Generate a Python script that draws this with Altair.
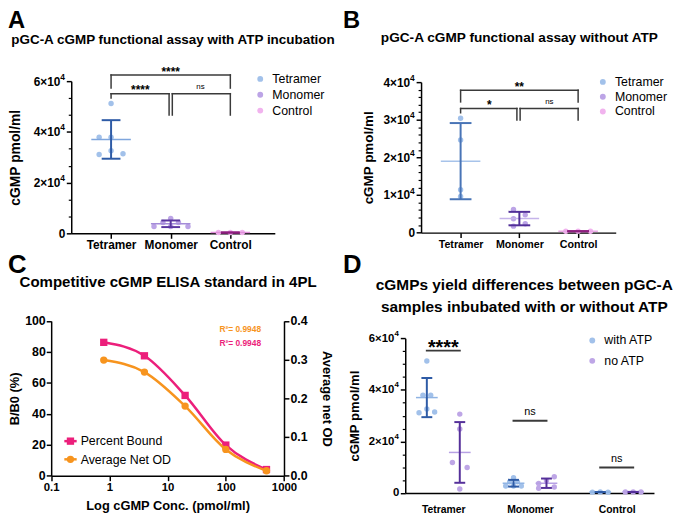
import json
import pandas as pd
import altair as alt

FONT = "Liberation Sans"
W, H = 677, 506

# ---------------- data ----------------
groups = ["Tetramer", "Monomer", "Control"]

# Panel A : with ATP
a_tetramer = [51200, 37900, 37900, 32600, 31100, 31400]
a_monomer = [5900, 4300, 4300, 2700, 2700, 2700]
a_control = [300, 350, 300]
a_tetramer_spread = [0, -0.2, 0, 0, -0.2, 0.2]
a_monomer_spread = [0, -0.13, 0.13, -0.28, 0, 0.29]
a_control_spread = [-0.2, 0, 0.2]

# Panel B : without ATP
b_tetramer = [30400, 24600, 11400, 9600]
b_monomer = [6160, 3700, 4730, 1730, 2360]
b_control = [350, 400, 350]
b_tetramer_spread = [0, 0, 0, 0]
b_monomer_spread = [-0.1, -0.1, 0.1, -0.1, 0.1]
b_control_spread = [-0.21, 0, 0.21]

# Panel C : ELISA standard
c_conc = [0.8, 4, 20, 100, 500]
c_percent_bound = [86.2, 77.5, 51.9, 19.8, 4.0]
c_avg_net_od = [0.299, 0.268, 0.180, 0.068, 0.0128]
c_series = ["Percent Bound", "Average Net OD"]
c_r2 = ["R²= 0.9948", "R²= 0.9948"]

# Panel D : with vs without ATP
d_series = ["with ATP", "no ATP"]
d_noatp_tetramer = [30600, 24800, 11800, 9900, 1500]
d_noatp_monomer = [6300, 3700, 4700, 1800, 2300]
d_noatp_control = [350, 400, 350]
d_with_tetramer_spread = [0, -0.045, 0.045, 0, -0.09, 0.09]
d_with_monomer_spread = [0, -0.045, 0.045, -0.09, 0, 0.09]
d_with_control_spread = [-0.09, 0, 0.09]
d_no_tetramer_spread = [0, 0, -0.085, 0.085, 0]
d_no_monomer_spread = [0.09, -0.09, 0, -0.09, 0.09]
d_no_control_spread = [-0.09, 0, 0.09]
d_series_shift = [-0.19, 0.19]

# significance annotations
a_br_x1 = [1, 1, 3, 1, 1, 1.973, 2.027, 2.027, 3]
a_br_x2 = [3, 1, 3, 1.973, 1, 1.973, 3, 2.027, 3]
a_br_y1 = [62450, 62450, 62450, 55050, 55050, 55050, 55050, 55050, 55050]
a_br_y2 = [62450, 57270, 57270, 55050, 53380, 46640, 55050, 46640, 46640]
a_star = ["****", "****"]
a_star_x = [2, 1.49]
a_star_y = [61950, 54930]
a_ns_x = [2.5]
a_ns_y = [56880]

b_br_x1 = [1, 1, 3, 1, 1, 1.958, 2.013, 2.013, 3]
b_br_x2 = [3, 1, 3, 1.958, 1, 1.958, 3, 2.013, 3]
b_br_y1 = [37820, 37820, 37820, 32990, 32990, 32990, 32990, 32990, 32990]
b_br_y2 = [37820, 34750, 34750, 32990, 31860, 29940, 32990, 29940, 29940]
b_star = ["**", "*"]
b_star_x = [2.0, 1.49]
b_star_y = [37715, 32900]
b_ns_x = [2.51]
b_ns_y = [34220]

d_br_x1 = [0.81, 1.81, 2.81]
d_br_x2 = [1.19, 2.19, 3.19]
d_br_y = [55240, 28000, 9860]
d_star_x = [1.0]
d_star_y = [53980]
d_ns_x = [2.0, 3.0]
d_ns_y = [30190, 12160]

titles = ["pGC-A cGMP functional assay with ATP incubation",
          "pGC-A cGMP functional assay without ATP",
          "Competitive cGMP ELISA standard in 4PL",
          "cGMPs yield differences between pGC-A",
          "samples inbubated with or without ATP"]
letters = ["A", "B", "C", "D"]
exponent = "4"

# ---------------- colours ----------------
PT = ["#a2c1ea", "#bca4e6", "#f1b3ee"]
A_ERR = ["#2e5ba6", "#5a36a0", "#8e1e7f"]
A_MEAN = ["#7fa6dd", "#a48cd8", "#e08fd9"]
B_ERR = ["#4874b6", "#512f98", "#8e1e7f"]
B_MEAN = ["#a7c3ea", "#c5b4ea", "#e9a8e5"]
D_PT = ["#a2c1ea", "#bea6e6"]
D_ERR = ["#2e5ba6", "#55309a"]
D_MEAN = ["#8fb3e3", "#b7a1e4"]
C_PINK = "#ec1f7b"
C_ORANGE = "#f7941e"
BRK = "#3a3a3a"

SUP_W = 5.0   # room left for the exponent


def long_df(value_lists, spread_lists, shift=0.0, series=None):
    rows = []
    for i, (g, vals, spr) in enumerate(zip(groups, value_lists, spread_lists)):
        for v, s in zip(vals, spr):
            rows.append({"group": g, "series": series if series else g,
                         "value": v, "center": i + 1 + shift,
                         "pos": i + 1 + shift + s})
    return pd.DataFrame(rows)


def lin(dom, rng):
    return alt.Scale(domain=dom, range=rng, nice=False, zero=False)


def cat_expr(names):
    return json.dumps(names, ensure_ascii=False) + "[round(datum.value) - 1]"


SCI = "datum.value == 0 ? '0' : format(datum.value / 10000, 'd') + '×10'"


def y_major(offset, values, title, title_x, lab_fs, title_fs):
    return alt.Axis(orient="left", offset=offset, values=values, labelExpr=SCI,
                    title=title, titleX=title_x, titleFontSize=title_fs,
                    labelFontSize=lab_fs, tickSize=5, tickWidth=1.5,
                    domainWidth=1.5,
                    labelPadding={"condition": {"test": "datum.value == 0", "value": 1.5},
                                  "value": 1.5 + SUP_W},
                    labelOverlap=False)


def y_minor(offset, values):
    return alt.Axis(orient="left", offset=offset, values=values, labels=False,
                    domain=False, tickSize=3, tickWidth=1.2, title=None)


def x_cat(offset, lab_fs, ticks=True, pad=1):
    return alt.Axis(orient="bottom", offset=offset, values=[1, 2, 3],
                    labelExpr=cat_expr(groups), title=None, labelFontSize=lab_fs,
                    ticks=ticks, tickSize=5 if ticks else 0, tickWidth=1.5,
                    domainWidth=1.5, labelPadding=pad, labelFlush=False,
                    labelOverlap=False)


def sup_layer(values, ys, axis_x, fs):
    df = pd.DataFrame({"v": values, "t": [exponent] * len(values)})
    return alt.Chart(df).mark_text(font=FONT, fontSize=fs, fontWeight="bold", align="right",
                                   baseline="middle", dy=-4.5, color="black").encode(
        x=alt.value(axis_x - 6.5), y=alt.Y("v:Q", scale=ys, axis=None), text="t:N")


def dot_panel(df, xs, ys, xaxis, ymaj, ymin, cfield, cdomain, pt_col, mean_col,
              err_col, mean_len, cap_len, legend):
    def col(rng, lg=None):
        if lg is None:
            return alt.Color(cfield + ":N", scale=alt.Scale(domain=cdomain, range=rng), legend=None)
        return alt.Color(cfield + ":N", scale=alt.Scale(domain=cdomain, range=rng), legend=lg)

    pts = alt.Chart(df).mark_circle(size=30, opacity=1).encode(
        x=alt.X("pos:Q", scale=xs, axis=xaxis),
        y=alt.Y("value:Q", scale=ys, axis=ymaj),
        color=col(pt_col, legend))
    gb = ["group", "center"] if cfield == "group" else [cfield, "group", "center"]
    agg = alt.Chart(df).transform_aggregate(
        m="mean(value)", sd="stdev(value)", groupby=gb
    ).transform_calculate(lo="datum.m - datum.sd", hi="datum.m + datum.sd")
    mean = agg.mark_tick(orient="horizontal", size=mean_len, thickness=1.5, opacity=1).encode(
        x=alt.X("center:Q", scale=xs, axis=None),
        y=alt.Y("m:Q", scale=ys, axis=ymin), color=col(mean_col))
    err = agg.mark_rule(strokeWidth=2).encode(
        x=alt.X("center:Q", scale=xs, axis=None),
        y=alt.Y("lo:Q", scale=ys, axis=None), y2=alt.Y2("hi"), color=col(err_col))
    caps = [agg.mark_tick(orient="horizontal", size=cap_len, thickness=2, opacity=1).encode(
        x=alt.X("center:Q", scale=xs, axis=None),
        y=alt.Y(f + ":Q", scale=ys, axis=None), color=col(err_col)) for f in ("lo", "hi")]
    return [pts, mean, err] + caps


def bracket_layer(x1, x2, y1, y2, xs, ys, width=1.5):
    df = pd.DataFrame({"x1": x1, "x2": x2, "y1": y1, "y2": y2})
    return alt.Chart(df).mark_rule(color=BRK, strokeWidth=width, strokeCap="square").encode(
        x=alt.X("x1:Q", scale=xs, axis=None), x2=alt.X2("x2"),
        y=alt.Y("y1:Q", scale=ys, axis=None), y2=alt.Y2("y2"))


def label_layer(texts, xv, yv, xs, ys, fs, weight, color="black"):
    df = pd.DataFrame({"t": texts, "x": xv, "y": yv})
    return alt.Chart(df).mark_text(font=FONT, fontSize=fs, fontWeight=weight, color=color,
                                   align="center", baseline="alphabetic").encode(
        x=alt.X("x:Q", scale=xs, axis=None), y=alt.Y("y:Q", scale=ys, axis=None), text="t:N")


def pix_text(txt, x, y, fs, weight="bold", align="center", color="black"):
    return alt.Chart(pd.DataFrame({"t": [txt]})).mark_text(
        font=FONT, fontSize=fs, fontWeight=weight, align=align, baseline="alphabetic",
        color=color).encode(x=alt.value(x), y=alt.value(y), text="t:N")


def dot_legend(x, y, row_pad):
    return alt.Legend(orient="none", legendX=x, legendY=y, title=None, labelFont=FONT,
                      labelFontSize=12.5, labelColor="black", symbolSize=35,
                      symbolType="circle", labelOffset=6, rowPadding=row_pad,
                      padding=0, symbolStrokeWidth=0)


layers = []

# ---------------- Panel A ----------------
xsA = lin([0.332, 3.746], [64, 270])
ysA = lin([0, 60000], [225, 71])
dfA = long_df([a_tetramer, a_monomer, a_control],
              [a_tetramer_spread, a_monomer_spread, a_control_spread])
a_major = [0, 20000, 40000, 60000]
layers += dot_panel(dfA, xsA, ysA, x_cat(225 - H, 12),
                    y_major(-64, a_major, "cGMP pmol/ml", -49, 12, 14),
                    y_minor(-64, [6667, 13333, 26667, 33333, 46667, 53333]),
                    "group", groups, PT, A_MEAN, A_ERR, 40, 19, dot_legend(249, 62.5, 3))
layers.append(sup_layer(a_major[1:], ysA, 64, 8.5))
layers.append(bracket_layer(a_br_x1, a_br_x2, a_br_y1, a_br_y2, xsA, ysA))
layers.append(label_layer(a_star, a_star_x, a_star_y, xsA, ysA, 12, "bold"))
layers.append(label_layer(["ns"], a_ns_x, a_ns_y, xsA, ysA, 8, "normal"))

# ---------------- Panel B ----------------
xsB = lin([0.327, 3.64], [418, 615])
ysB = lin([0, 40000], [224.3, 72])
dfB = long_df([b_tetramer, b_monomer, b_control],
              [b_tetramer_spread, b_monomer_spread, b_control_spread])
b_major = [0, 10000, 20000, 30000, 40000]
b_minor = [v for v in range(2000, 40000, 2000) if v % 10000]
layers += dot_panel(dfB, xsB, ysB, x_cat(224.3 - H, 10.8),
                    y_major(-418, b_major, "cGMP pmol/ml", -46.5, 12, 13.6),
                    y_minor(-418, b_minor),
                    "group", groups, PT, B_MEAN, B_ERR, 40, 22, dot_legend(595.7, 65.5, 2))
layers.append(sup_layer(b_major[1:], ysB, 418, 8.5))
layers.append(bracket_layer(b_br_x1, b_br_x2, b_br_y1, b_br_y2, xsB, ysB))
layers.append(label_layer(b_star, b_star_x, b_star_y, xsB, ysB, 12, "bold"))
layers.append(label_layer(["ns"], b_ns_x, b_ns_y, xsB, ysB, 8, "normal"))

# ---------------- Panel C ----------------
xsC = alt.Scale(type="log", domain=[0.1, 1000], range=[43.7, 279.3], nice=False)
ysCL = lin([0, 100], [470.3, 313.7])
ysCR = lin([0, 0.4], [470.3, 313.7])
dfC = pd.DataFrame({"conc": c_conc, "pb": c_percent_bound, "od": c_avg_net_od})
c_xaxis = alt.Axis(orient="bottom", offset=470.3 - H, values=[0.1, 1, 10, 100, 1000],
                   format="~g", title="Log cGMP Conc. (pmol/ml)", titleY=24.5,
                   titleFontSize=13, labelFontSize=11.5, tickSize=5, tickWidth=1.5,
                   domainWidth=1.5, labelPadding=1, labelFlush=False, labelOverlap=False)
c_left = alt.Axis(orient="left", offset=-43.7, values=[0, 20, 40, 60, 80, 100], format="d",
                  title="B/B0 (%)", titleX=-30, titleFontSize=13, labelFontSize=12.5,
                  tickSize=5, tickWidth=1.5, domainWidth=1.5, labelPadding=1,
                  labelOverlap=False)
c_right = alt.Axis(orient="right", offset=279.3 - W, values=[0, 0.1, 0.2, 0.3, 0.4],
                   format=".1f", title="Average net OD", titleX=36, titleFontSize=13,
                   labelFontSize=12.5, tickSize=5, tickWidth=1.5, domainWidth=1.5,
                   labelPadding=1, labelOverlap=False)
layers.append(alt.Chart(dfC).mark_line(color=C_PINK, strokeWidth=2.5, interpolate="monotone").encode(
    x=alt.X("conc:Q", scale=xsC, axis=c_xaxis), y=alt.Y("pb:Q", scale=ysCL, axis=c_left)))
layers.append(alt.Chart(dfC).mark_square(size=55, color=C_PINK, opacity=1).encode(
    x=alt.X("conc:Q", scale=xsC, axis=None), y=alt.Y("pb:Q", scale=ysCL, axis=None)))
layers.append(alt.Chart(dfC).mark_line(color=C_ORANGE, strokeWidth=2.5, interpolate="monotone").encode(
    x=alt.X("conc:Q", scale=xsC, axis=None), y=alt.Y("od:Q", scale=ysCR, axis=c_right)))
layers.append(alt.Chart(dfC).mark_circle(size=55, color=C_ORANGE, opacity=1).encode(
    x=alt.X("conc:Q", scale=xsC, axis=None), y=alt.Y("od:Q", scale=ysCR, axis=None)))
layers.append(label_layer([c_r2[0]], [177], [93.2], xsC, ysCL, 8.5, "bold", C_ORANGE))
layers.append(label_layer([c_r2[1]], [177], [84.0], xsC, ysCL, 8.5, "bold", C_PINK))
for name, color, shape, yy in zip(c_series, [C_PINK, C_ORANGE], ["square", "circle"], [435.3, 453.7]):
    one = pd.DataFrame({"t": [name]})
    layers.append(alt.Chart(one).mark_rule(color=color, strokeWidth=2.5).encode(
        x=alt.value(57), x2=alt.value(69.5), y=alt.value(yy)))
    layers.append(alt.Chart(one).mark_point(shape=shape, filled=True, size=55, color=color,
                                            opacity=1).encode(x=alt.value(63.2), y=alt.value(yy)))
    layers.append(pix_text(name, 73.5, yy + 4.4, 12.5, "normal", "left"))

# ---------------- Panel D ----------------
xsD = lin([0.561, 3.43], [402, 653.7])
ysD = lin([0, 60000], [487.7, 331.3])
dfD = pd.concat([
    long_df([a_tetramer, a_monomer, a_control],
            [d_with_tetramer_spread, d_with_monomer_spread, d_with_control_spread],
            d_series_shift[0], d_series[0]),
    long_df([d_noatp_tetramer, d_noatp_monomer, d_noatp_control],
            [d_no_tetramer_spread, d_no_monomer_spread, d_no_control_spread],
            d_series_shift[1], d_series[1]),
], ignore_index=True)
d_major = [0, 20000, 40000, 60000]
d_minor = [v for v in range(5000, 60000, 5000) if v % 20000]
layers += dot_panel(dfD, xsD, ysD, x_cat(487.7 - H, 10.5, ticks=False, pad=12),
                    y_major(-402, d_major, "cGMP pmol/ml", -44, 11.5, 13.3),
                    y_minor(-402, d_minor),
                    "series", d_series, D_PT, D_MEAN, D_ERR, 22, 11, dot_legend(585, 327.2, 7.6))
layers.append(sup_layer(d_major[1:], ysD, 402, 8))
layers.append(bracket_layer(d_br_x1, d_br_x2, d_br_y, d_br_y, xsD, ysD, 2))
layers.append(label_layer(["****"], d_star_x, d_star_y, xsD, ysD, 20, "bold"))
layers.append(label_layer(["ns", "ns"], d_ns_x, d_ns_y, xsD, ysD, 11, "normal"))

# ---------------- titles and panel letters ----------------
layers.append(pix_text(letters[0], 0, 17.5, 24, "bold", "left"))
layers.append(pix_text(letters[1], 339, 17.5, 24, "bold", "left"))
layers.append(pix_text(letters[2], 0, 265, 26, "bold", "left"))
layers.append(pix_text(letters[3], 339, 265, 26, "bold", "left"))
layers.append(pix_text(titles[0], 167, 33, 13.6))
layers.append(pix_text(titles[1], 517.5, 31, 13.8))
layers.append(pix_text(titles[2], 162, 279.2, 15.2))
layers.append(pix_text(titles[3], 522.5, 282.6, 15.6))
layers.append(pix_text(titles[4], 522.5, 304.3, 15.6))

chart = alt.layer(*layers).resolve_scale(
    x="independent", y="independent", color="independent"
).properties(
    width=W, height=H, padding=0, background="white",
    autosize=alt.AutoSizeParams(type="none"),
).configure_axis(
    labelFont=FONT, titleFont=FONT, labelColor="black", titleColor="black",
    domainColor="black", tickColor="black", grid=False,
    labelFontWeight="bold", titleFontWeight="bold",
).configure_legend(labelFont=FONT, labelColor="black").configure_view(strokeWidth=0)

chart.save("out.html", embed_options={"renderer": "svg", "actions": False})
